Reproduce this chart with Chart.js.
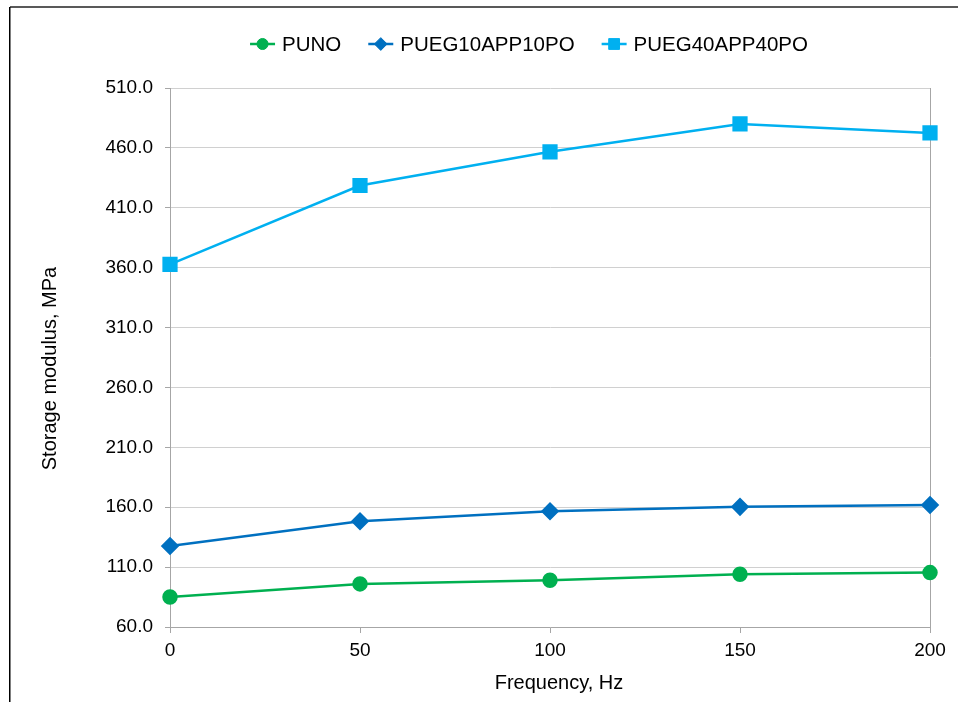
<!DOCTYPE html>
<html>
<head>
<meta charset="utf-8">
<script src="https://cdn.jsdelivr.net/npm/chart.js@4.4.1/dist/chart.umd.min.js"></script>
<style>
  html, body { margin: 0; padding: 0; background: #ffffff; }
  #wrap { width: 958px; height: 702px; position: relative; }
</style>
</head>
<body>
<div id="wrap"><canvas id="chart" width="958" height="702"></canvas></div>
<script>
// Frequency sweep points (Hz)
const frequencies = [0, 50, 100, 150, 200];

// Storage modulus (MPa) per formulation
const punoValues   = [85.1, 96.0, 99.0, 104.1, 105.4];
const pueg10Values = [127.6, 148.2, 156.6, 160.3, 161.8];
const pueg40Values = [362.8, 428.6, 456.7, 480.0, 472.5];

const seriesNames = ['PUNO', 'PUEG10APP10PO', 'PUEG40APP40PO'];

// Axis tick values
const xTickValues = [0, 50, 100, 150, 200];
const yTickValues = [60, 110, 160, 210, 260, 310, 360, 410, 460, 510];

const xTitle = 'Frequency, Hz';
const yTitle = 'Storage modulus, MPa';

const FONT = "'Liberation Sans', Arial, sans-serif";
const GRID = '#d0d0d0';
const AXIS = '#a6a6a6';

function pts(values) {
  return frequencies.map((f, i) => ({ x: f, y: values[i] }));
}

// White page, framing lines, axis titles and a line-with-marker key
const decorations = {
  id: 'decorations',
  beforeDraw(chart) {
    const ctx = chart.ctx;
    ctx.save();
    ctx.fillStyle = '#ffffff';
    ctx.fillRect(0, 0, chart.width, chart.height);
    ctx.fillStyle = '#595959';
    ctx.fillRect(10, 6, chart.width - 10, 2);
    ctx.fillStyle = '#000000';
    ctx.fillRect(9, 7, 1.5, chart.height - 7);
    ctx.restore();
  },
  afterDraw(chart) {
    const ctx = chart.ctx;
    const area = chart.chartArea;
    ctx.save();
    ctx.fillStyle = '#000000';
    ctx.font = '20px ' + FONT;
    ctx.textAlign = 'center';
    ctx.textBaseline = 'middle';
    // x-axis title
    ctx.fillText(xTitle, (area.left + area.right) / 2 + 9, 683);
    // y-axis title
    ctx.save();
    ctx.translate(50.5, (area.top + area.bottom) / 2 + 11);
    ctx.rotate(-Math.PI / 2);
    ctx.fillText(yTitle, 0, 0);
    ctx.restore();

    // key: short line segment with the series marker, then its name
    ctx.font = '20.5px ' + FONT;
    const lineLen = 25, gapText = 7, gapItem = 27;
    const widths = chart.data.datasets.map(ds => lineLen + gapText + ctx.measureText(ds.label).width);
    const total = widths.reduce((a, b) => a + b, 0) + gapItem * (widths.length - 1);
    let x = 529 - total / 2;
    const y = 44;
    ctx.textAlign = 'left';
    chart.data.datasets.forEach((ds, i) => {
      ctx.strokeStyle = ds.borderColor;
      ctx.lineWidth = ds.borderWidth;
      ctx.beginPath();
      ctx.moveTo(x, y);
      ctx.lineTo(x + lineLen, y);
      ctx.stroke();
      ctx.fillStyle = ds.pointBackgroundColor;
      ctx.strokeStyle = ds.pointBorderColor;
      ctx.lineWidth = 1;
      Chart.helpers.drawPoint(ctx, {
        pointStyle: ds.pointStyle,
        radius: ds.pointRadius * 0.85,
        rotation: 0,
        borderWidth: 1
      }, x + lineLen / 2, y);
      ctx.fillStyle = '#000000';
      ctx.fillText(ds.label, x + lineLen + gapText, y + 1);
      x += widths[i] + gapItem;
    });
    ctx.restore();
  }
};

new Chart(document.getElementById('chart'), {
  type: 'line',
  data: {
    datasets: [
      {
        label: seriesNames[0],
        data: pts(punoValues),
        borderColor: '#00b050',
        backgroundColor: '#00b050',
        pointBackgroundColor: '#00b050',
        pointBorderColor: '#00b050',
        pointStyle: 'circle',
        pointRadius: 6.5,
        borderWidth: 2.5,
        clip: false
      },
      {
        label: seriesNames[1],
        data: pts(pueg10Values),
        borderColor: '#0070c0',
        backgroundColor: '#0070c0',
        pointBackgroundColor: '#0070c0',
        pointBorderColor: '#0070c0',
        pointStyle: 'rectRot',
        pointRadius: 7.5,
        borderWidth: 2.5,
        clip: false
      },
      {
        label: seriesNames[2],
        data: pts(pueg40Values),
        borderColor: '#00b0f0',
        backgroundColor: '#00b0f0',
        pointBackgroundColor: '#00b0f0',
        pointBorderColor: '#00b0f0',
        pointStyle: 'rect',
        pointRadius: 9,
        borderWidth: 2.5,
        clip: false
      }
    ]
  },
  options: {
    responsive: false,
    animation: false,
    devicePixelRatio: 1,
    layout: { padding: { left: 0, right: 28, top: 88, bottom: 0 } },
    elements: {
      line: { tension: 0, fill: false },
      point: { borderWidth: 1, hoverRadius: 8 }
    },
    plugins: {
      legend: { display: false },
      tooltip: { enabled: false },
      title: { display: false }
    },
    scales: {
      x: {
        type: 'linear',
        min: 0,
        max: 200,
        afterBuildTicks: s => { s.ticks = xTickValues.map(v => ({ value: v })); },
        afterFit: s => { s.height = 75; },
        border: { display: true, color: AXIS, width: 1 },
        grid: {
          color: c => (c.tick && c.tick.value === 200 ? AXIS : 'rgba(0,0,0,0)'),
          tickColor: AXIS,
          tickLength: 6,
          drawOnChartArea: true
        },
        ticks: {
          color: '#000000',
          padding: 6,
          font: { family: FONT, size: 19 },
          maxRotation: 0,
          callback: v => String(v)
        }
      },
      y: {
        type: 'linear',
        min: 60,
        max: 510,
        afterBuildTicks: s => { s.ticks = yTickValues.map(v => ({ value: v })); },
        afterFit: s => { s.width = 170; },
        border: { display: true, color: AXIS, width: 1 },
        grid: {
          color: GRID,
          tickColor: AXIS,
          tickLength: 5
        },
        ticks: {
          color: '#000000',
          padding: 12,
          font: { family: FONT, size: 19 },
          callback: v => Number(v).toFixed(1)
        }
      }
    }
  },
  plugins: [decorations]
});
</script>
</body>
</html>
